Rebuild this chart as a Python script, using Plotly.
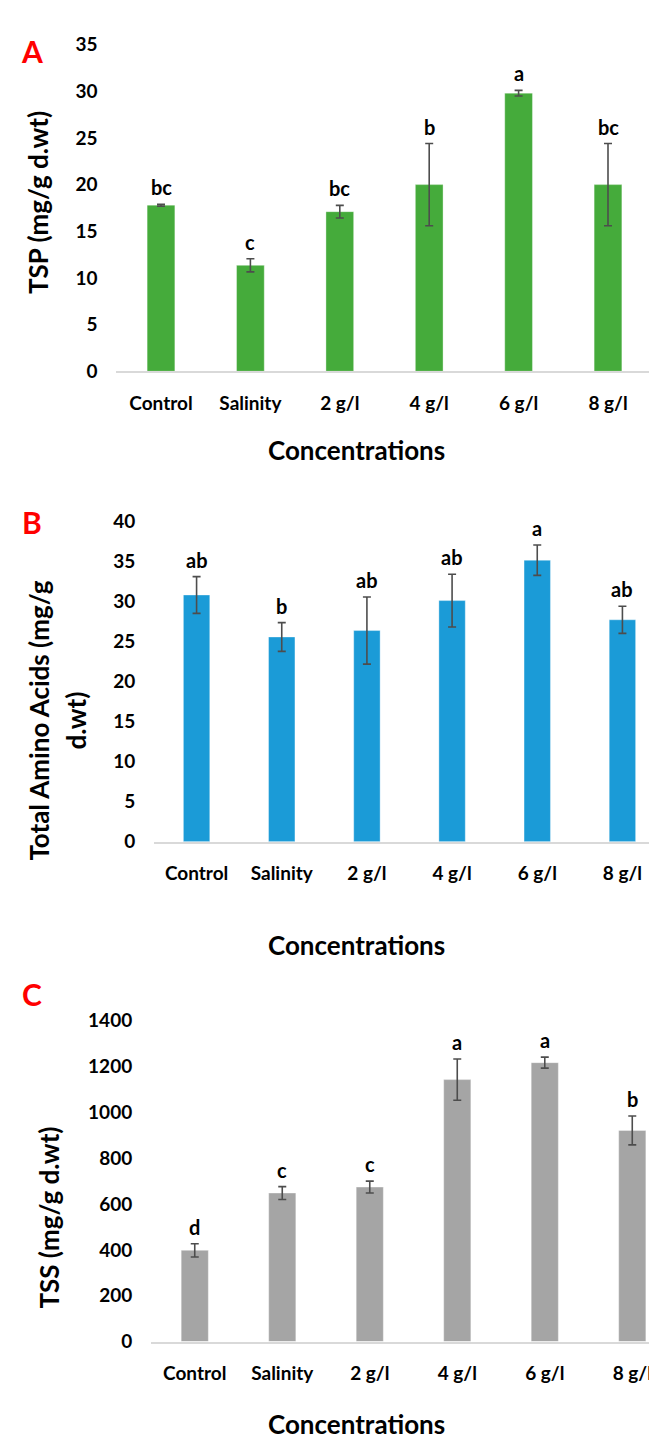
import plotly.graph_objects as go

categories = ["Control", "Salinity", "2 g/l", "4 g/l", "6 g/l", "8 g/l"]

tsp_values = [17.8, 11.35, 17.1, 20.0, 29.8, 20.0]
tsp_errors = [0.1, 0.7, 0.67, 4.4, 0.3, 4.4]
tsp_letters = ["bc", "c", "bc", "b", "a", "bc"]

amino_values = [30.85, 25.6, 26.4, 30.15, 35.2, 27.75]
amino_errors = [2.3, 1.8, 4.2, 3.3, 1.9, 1.7]
amino_letters = ["ab", "b", "ab", "ab", "a", "ab"]

tss_values = [398, 648, 674, 1143, 1217, 921]
tss_errors = [29, 28, 26, 90, 24, 63]
tss_letters = ["d", "c", "c", "a", "a", "b"]

W, H = 657, 1438
FONT = "Lato"

def px(x):
    return x / W

def py(y):
    return 1 - y / H

fig = go.Figure()

panels = [
    dict(vals=tsp_values, errs=tsp_errors, letters=tsp_letters, color="#45AB3B",
         xdom=[108.3, 644.7], ydom=[357, 25], xrange=[-0.5, 5.5], yrange=[0, 35], dtick=5),
    dict(vals=amino_values, errs=amino_errors, letters=amino_letters, color="#1B9BD7",
         xdom=[146, 657], ydom=[835, 510], xrange=[-0.5, 5.5], yrange=[0, 40], dtick=5),
    dict(vals=tss_values, errs=tss_errors, letters=tss_letters, color="#A5A5A5",
         xdom=[143, 657], ydom=[1343, 1017], xrange=[-0.5, 5.374], yrange=[0, 1400], dtick=200),
]

annotations = []
for i, p in enumerate(panels, start=1):
    xa = "x" if i == 1 else f"x{i}"
    ya = "y" if i == 1 else f"y{i}"
    fig.add_trace(go.Bar(
        x=list(range(len(categories))), y=p["vals"], xaxis=xa, yaxis=ya,
        width=0.31,
        marker=dict(color=p["color"], line=dict(color="rgba(255,255,255,0.35)", width=1)),
        error_y=dict(type="data", array=p["errs"], visible=True,
                     color="#4D4D4D", thickness=1.6, width=4),
        showlegend=False, hoverinfo="skip",
    ))
    for k, (v, e, t) in enumerate(zip(p["vals"], p["errs"], p["letters"])):
        annotations.append(dict(
            x=k, y=v + e, xref=xa, yref=ya, text=t, showarrow=False,
            yanchor="bottom", yshift=3,
            font=dict(family=FONT, size=20, color="#000000", weight="bold"),
        ))
    axkey = "xaxis" if i == 1 else f"xaxis{i}"
    aykey = "yaxis" if i == 1 else f"yaxis{i}"
    fig.update_layout({
        axkey: dict(
            domain=[px(p["xdom"][0]), px(p["xdom"][1])], anchor=ya,
            range=p["xrange"], tickmode="array",
            tickvals=list(range(len(categories))), ticktext=categories,
            showline=True, linecolor="#D9D9D9", linewidth=1.5,
            showgrid=False, zeroline=False,
            ticks="outside", ticklen=14, tickcolor="rgba(0,0,0,0)",
            tickfont=dict(family=FONT, size=19, color="#000000", weight="bold"),
            fixedrange=True,
        ),
        aykey: dict(
            domain=[py(p["ydom"][0]), py(p["ydom"][1])], anchor=xa,
            range=p["yrange"], dtick=p["dtick"], tick0=0,
            showline=False, showgrid=False, zeroline=False,
            ticks="outside", ticklen=14, tickcolor="rgba(0,0,0,0)",
            tickfont=dict(family=FONT, size=19, color="#000000", weight="bold"),
            fixedrange=True,
        ),
    })

def paper_text(x, y, text, size, color="#000000", angle=0):
    annotations.append(dict(
        x=px(x), y=py(y), xref="paper", yref="paper", text=text,
        showarrow=False, xanchor="center", yanchor="middle", textangle=angle,
        font=dict(family=FONT, size=size, color=color, weight="bold"),
    ))

# panel letters
paper_text(24, 31, "A", 30, "#FF0000")
paper_text(24, 510, "B", 30, "#FF0000")
paper_text(24, 990, "C", 30, "#FF0000")

# y-axis titles
paper_text(30, 186, "TSP (mg/g d.wt)", 26, angle=-90)
paper_text(31, 712, "Total Amino Acids (mg/g", 26, angle=-90)
paper_text(68, 712, "d.wt)", 26, angle=-90)
paper_text(41, 1217, "TSS (mg/g d.wt)", 26, angle=-90)

# x-axis titles
paper_text(348, 437, "Concentrations", 26)
paper_text(348, 940, "Concentrations", 26)
paper_text(348, 1427, "Concentrations", 26)

fig.update_layout(
    width=W, height=H,
    margin=dict(l=0, r=0, t=0, b=0),
    paper_bgcolor="white", plot_bgcolor="white",
    annotations=annotations,
    bargap=0.7,
)

fig.write_html("out.html")
